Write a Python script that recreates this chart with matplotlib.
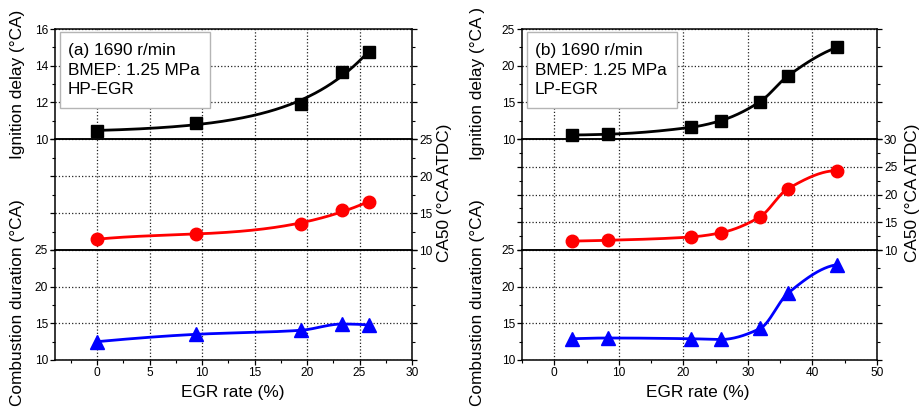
import numpy as np
import matplotlib
matplotlib.use('Agg')
import matplotlib.pyplot as plt
from matplotlib.ticker import MultipleLocator
from matplotlib.patches import Rectangle

plt.rcParams['font.family'] = ['Liberation Sans', 'DejaVu Sans']

# ---------------- data ----------------
egr_a = [0, 9.4, 19.4, 23.3, 25.9]
ign_a = [10.45, 10.85, 11.93, 13.64, 14.72]
ca50_a = [11.45, 12.2, 13.5, 15.4, 16.45]
dur_a = [12.5, 13.5, 14.05, 14.9, 14.75]

egr_b = [2.75, 8.3, 21.2, 25.8, 31.9, 36.2, 43.8]
ign_b = [10.55, 10.65, 11.6, 12.5, 15.1, 18.6, 22.5]
ca50_b = [11.6, 11.75, 12.35, 13.1, 16.0, 21.05, 24.3]
dur_b = [12.9, 13.0, 12.9, 12.8, 14.3, 19.1, 23.0]

label_a = "(a) 1690 r/min\nBMEP: 1.25 MPa\nHP-EGR"
label_b = "(b) 1690 r/min\nBMEP: 1.25 MPa\nLP-EGR"
xlabel = "EGR rate (%)"
ign_label_a = "Ignition delay (°CA)"
ign_label_b = "Ignition delay (°CA )"
dur_label = "Combustion duration (°CA)"
ca50_label = "CA50 (°CA ATDC)"


def pchip(x, y, n=300):
    """Monotone cubic curve used only to draw the connecting line."""
    x = np.asarray(x, float)
    y = np.asarray(y, float)
    h = np.diff(x)
    dl = np.diff(y) / h
    m = len(x)
    d = np.zeros(m)
    for k in range(1, m - 1):
        if dl[k - 1] * dl[k] <= 0:
            d[k] = 0.0
        else:
            w1 = 2 * h[k] + h[k - 1]
            w2 = h[k] + 2 * h[k - 1]
            d[k] = (w1 + w2) / (w1 / dl[k - 1] + w2 / dl[k])

    def edge(h0, h1, d0, d1):
        v = ((2 * h0 + h1) * d0 - h0 * d1) / (h0 + h1)
        if np.sign(v) != np.sign(d0):
            v = 0.0
        elif np.sign(d0) != np.sign(d1) and abs(v) > abs(3 * d0):
            v = 3 * d0
        return v

    d[0] = edge(h[0], h[1], dl[0], dl[1])
    d[-1] = edge(h[-1], h[-2], dl[-1], dl[-2])
    xs = np.linspace(x[0], x[-1], n)
    idx = np.clip(np.searchsorted(x, xs) - 1, 0, m - 2)
    t = (xs - x[idx]) / h[idx]
    h00 = 2 * t**3 - 3 * t**2 + 1
    h10 = t**3 - 2 * t**2 + t
    h01 = -2 * t**3 + 3 * t**2
    h11 = t**3 - t**2
    ys = h00 * y[idx] + h10 * h[idx] * d[idx] + h01 * y[idx + 1] + h11 * h[idx] * d[idx + 1]
    return xs, ys


def expfit(x, y, n=300):
    """Smooth least-squares y = a + b*exp(k x) trend line (display only)."""
    x = np.asarray(x, float)
    y = np.asarray(y, float)
    best = None
    for k in np.linspace(0.005, 0.5, 1000):
        A = np.column_stack([np.ones_like(x), np.exp(k * x)])
        coef, *_ = np.linalg.lstsq(A, y, rcond=None)
        res = np.sum((A @ coef - y) ** 2)
        if best is None or res < best[0]:
            best = (res, k, coef)
    _, k, coef = best
    xs = np.linspace(x[0], x[-1], n)
    return xs, coef[0] + coef[1] * np.exp(k * xs)


def polyfit3(x, y, n=300):
    """Smooth least-squares cubic used only to draw the trend line."""
    x = np.asarray(x, float)
    y = np.asarray(y, float)
    c = np.polyfit(x, y, 3)
    xs = np.linspace(x[0], x[-1], n)
    return xs, np.polyval(c, xs)


W, H = 924, 408
fig = plt.figure(figsize=(W / 100, H / 100), dpi=100)


def ax_px(l, t, r, b, z):
    ax = fig.add_axes([l / W, 1 - b / H, (r - l) / W, (b - t) / H])
    ax.set_zorder(z)
    ax.patch.set_visible(False)
    return ax


TICK_FS = 8.6
LAB_FS = 12.4
GRID = dict(linestyle=':', color='#222222', linewidth=0.9)


def style(ax, xlim, xmaj, xmin, ylim, ymaj, ymin, left_lab, right_lab, xlab):
    ax.set_xlim(*xlim)
    ax.set_ylim(*ylim)
    ax.xaxis.set_major_locator(MultipleLocator(xmaj))
    ax.xaxis.set_minor_locator(MultipleLocator(xmin))
    ax.yaxis.set_major_locator(MultipleLocator(ymaj))
    ax.yaxis.set_minor_locator(MultipleLocator(ymin))
    for s in ax.spines.values():
        s.set_linewidth(1.1)
        s.set_color('black')
    ax.grid(True, which='major', **GRID)
    ax.tick_params(axis='both', which='major', direction='out', length=3.5, width=0.9,
                   labelsize=TICK_FS, pad=1.5, colors='black')
    ax.tick_params(axis='both', which='minor', direction='out', length=2, width=0.8)
    ax.tick_params(axis='y', which='both', left=True, right=True,
                   labelleft=left_lab, labelright=right_lab)
    ax.tick_params(axis='x', which='both', bottom=xlab, top=False, labelbottom=xlab)
    ax.set_axisbelow(True)


def panel(l, r, xlim, xmaj, xmin, egr, ign, ca50, dur, ign_lim, ign_maj, ign_min,
          ca_lim, textlabel, ign_label, ylx, rlx, xlx, curves):
    top = ax_px(l, 29, r, 139, 3)
    mid = ax_px(l, 139, r, 250, 2)
    bot = ax_px(l, 250, r, 360, 1)
    style(top, xlim, xmaj, xmin, ign_lim, ign_maj, ign_min, True, False, False)
    style(mid, xlim, xmaj, xmin, ca_lim, 5, 2.5, False, True, False)
    style(bot, xlim, xmaj, xmin, (10, 25), 5, 2.5, True, False, True)

    xs, ys = curves[0](egr, ign)
    top.plot(xs, ys, color='black', lw=2.0, clip_on=False, zorder=3)
    top.plot(egr, ign, ls='none', marker='s', ms=8.5, color='black', clip_on=False, zorder=4)

    xs, ys = curves[1](egr, ca50)
    mid.plot(xs, ys, color='#ff0000', lw=2.0, clip_on=False, zorder=3)
    mid.plot(egr, ca50, ls='none', marker='o', ms=9, color='#ff0000', clip_on=False, zorder=4)

    xs, ys = curves[2](egr, dur)
    bot.plot(xs, ys, color='#0000ff', lw=2.0, clip_on=False, zorder=3)
    bot.plot(egr, dur, ls='none', marker='^', ms=10, color='#0000ff', clip_on=False, zorder=4)

    # label box
    wpx = r - l
    bx0 = 5 / wpx
    bx1 = 155 / wpx
    top.add_patch(Rectangle((bx0, (139 - 108) / 110), bx1 - bx0, (108 - 32) / 110,
                            transform=top.transAxes, facecolor='white',
                            edgecolor='#b5b5b5', linewidth=1.0, zorder=9))
    top.text(13 / wpx, 0.87, textlabel, transform=top.transAxes, fontsize=LAB_FS,
             va='top', ha='left', linespacing=1.37, zorder=10)

    fig.text(ylx / W, 1 - 84 / H, ign_label, rotation=90, fontsize=LAB_FS,
             ha='center', va='center')
    fig.text(ylx / W, 1 - 303 / H, dur_label, rotation=90, fontsize=LAB_FS,
             ha='center', va='center')
    fig.text(rlx / W, 1 - 193 / H, ca50_label, rotation=90, fontsize=LAB_FS,
             ha='center', va='center')
    fig.text(xlx / W, 1 - 393 / H, xlabel, fontsize=LAB_FS, ha='center', va='center')


panel(55, 412, (-4, 30), 5, 2.5, egr_a, ign_a, ca50_a, dur_a,
      (10, 16), 2, 1, (10, 25), label_a, ign_label_a, 18, 444, 233,
      (expfit, polyfit3, pchip))
panel(522, 877, (-5, 50), 10, 5, egr_b, ign_b, ca50_b, dur_b,
      (10, 25), 5, 2.5, (10, 30), label_b, ign_label_b, 478, 912, 698,
      (pchip, pchip, pchip))

fig.savefig('out.png', dpi=100)
